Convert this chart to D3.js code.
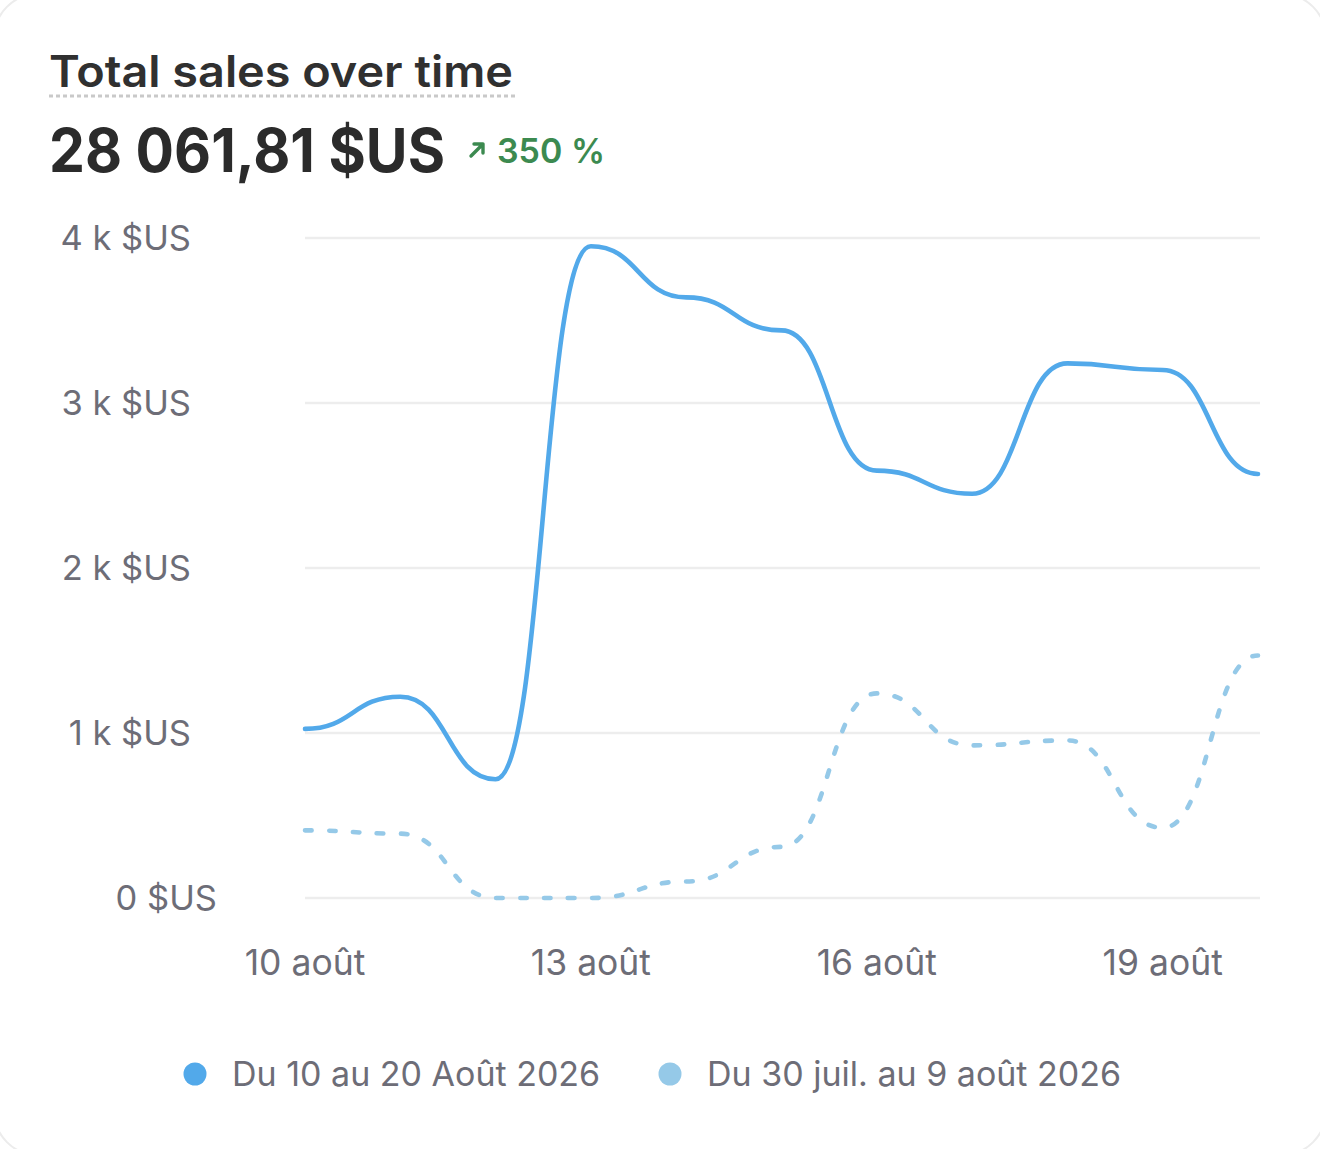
<!DOCTYPE html>
<html>
<head>
<meta charset="utf-8">
<script src="https://cdn.jsdelivr.net/npm/d3@7"></script>
<style>
  html, body { margin: 0; padding: 0; background: #ffffff; }
  svg { display: block; font-family: Inter, "Noto Sans", sans-serif; }
</style>
</head>
<body>
<svg id="chart" width="1320" height="1149"></svg>
<script>
// ---- data ----
const dates = ["2026-08-10","2026-08-11","2026-08-12","2026-08-13","2026-08-14","2026-08-15",
               "2026-08-16","2026-08-17","2026-08-18","2026-08-19","2026-08-20"];
const currentSales  = [1025, 1220, 720, 3950, 3640, 3440, 2590, 2450, 3240, 3200, 2570];
const previousSales = [410, 390, 0, 0, 100, 310, 1240, 925, 955, 425, 1470];
const yTickValues = [0, 1000, 2000, 3000, 4000];
const yTickLabels = ["0 $US", "1 k $US", "2 k $US", "3 k $US", "4 k $US"];
const xTickDates  = ["2026-08-10","2026-08-13","2026-08-16","2026-08-19"];
const xTickLabels = ["10 août", "13 août", "16 août", "19 août"];
const seriesNames = ["Du 10 au 20 Août 2026", "Du 30 juil. au 9 août 2026"];
const seriesColors = ["#52a9ea", "#95c9e8"];
const title = "Total sales over time";
const totalLabel = "28 061,81 $US";
const changeLabel = "350 %";

// ---- setup ----
const parse = d3.utcParse("%Y-%m-%d");
const svg = d3.select("#chart");

// faint card outline (only corners visible)
svg.append("rect")
  .attr("x", -6).attr("y", -6).attr("width", 1332).attr("height", 1161)
  .attr("rx", 44).attr("fill", "#ffffff").attr("stroke", "#ececec").attr("stroke-width", 2);

const x = d3.scaleUtc()
  .domain([parse(dates[0]), parse(dates[dates.length - 1])])
  .range([305, 1258]);
const y = d3.scaleLinear().domain([0, 4000]).range([898, 238]);

// ---- header ----
svg.append("text")
  .attr("x", 49).attr("y", 87)
  .attr("font-size", 44).attr("font-weight", 600).attr("fill", "#303030")
  .attr("textLength", 464).attr("lengthAdjust", "spacingAndGlyphs")
  .text(title);
svg.append("line")
  .attr("x1", 49).attr("x2", 516).attr("y1", 96).attr("y2", 96)
  .attr("stroke", "#c9c9c9").attr("stroke-width", 3).attr("stroke-dasharray", "4 3");

svg.append("text")
  .attr("x", 49).attr("y", 172)
  .attr("font-size", 60).attr("font-weight", 700).attr("fill", "#2b2b2b")
  .attr("textLength", 396).attr("lengthAdjust", "spacingAndGlyphs")
  .text(totalLabel);

// change arrow
const arrow = svg.append("g").attr("transform", "translate(470,143)")
  .attr("stroke", "#3c8a50").attr("stroke-width", 3.4).attr("fill", "none")
  .attr("stroke-linecap", "round").attr("stroke-linejoin", "round");
arrow.append("path").attr("d", "M1,13 L13,1 M4,1 L13,1 L13,10");
svg.append("text")
  .attr("x", 497).attr("y", 163)
  .attr("font-size", 34).attr("font-weight", 600).attr("fill", "#3c8a50")
  .attr("textLength", 108).attr("lengthAdjust", "spacingAndGlyphs")
  .text(changeLabel);

// ---- gridlines & y labels ----
svg.append("g").selectAll("line").data(yTickValues).join("line")
  .attr("x1", 305).attr("x2", 1260)
  .attr("y1", d => y(d)).attr("y2", d => y(d))
  .attr("stroke", "#ededed").attr("stroke-width", 2.5);

svg.append("g").selectAll("text").data(yTickValues).join("text")
  .attr("x", d => d === 0 ? 217 : 191)
  .attr("y", d => y(d) + 12)
  .attr("text-anchor", "end")
  .attr("font-size", 34.5).attr("fill", "#6d6d77")
  .text((d, i) => yTickLabels[i]);

// ---- x labels ----
svg.append("g").selectAll("text").data(xTickDates).join("text")
  .attr("x", d => x(parse(d)))
  .attr("y", 975)
  .attr("text-anchor", "middle")
  .attr("font-size", 35.5).attr("fill", "#6d6d77")
  .text((d, i) => xTickLabels[i]);

// ---- lines ----
const line = d3.line().curve(d3.curveBumpX)
  .x(d => x(parse(d.date))).y(d => y(d.value));

const prevData = dates.map((d, i) => ({date: d, value: previousSales[i]}));
const currData = dates.map((d, i) => ({date: d, value: currentSales[i]}));

svg.append("path").datum(prevData)
  .attr("d", line).attr("fill", "none")
  .attr("stroke", seriesColors[1]).attr("stroke-width", 4.6)
  .attr("stroke-linecap", "round").attr("stroke-dasharray", "6.5 17.5");

svg.append("path").datum(currData)
  .attr("d", line).attr("fill", "none")
  .attr("stroke", seriesColors[0]).attr("stroke-width", 4.6)
  .attr("stroke-linecap", "round").attr("stroke-linejoin", "round");

// ---- legend ----
const legendX = [195, 670];
const lg = svg.append("g").selectAll("g").data(seriesNames).join("g")
  .attr("transform", (d, i) => `translate(${legendX[i]},1074)`);
lg.append("circle").attr("r", 11.5).attr("fill", (d, i) => seriesColors[i]);
lg.append("text")
  .attr("x", 37).attr("y", 12)
  .attr("font-size", 34).attr("fill", "#6d6d77")
  .text(d => d);
</script>
</body>
</html>
